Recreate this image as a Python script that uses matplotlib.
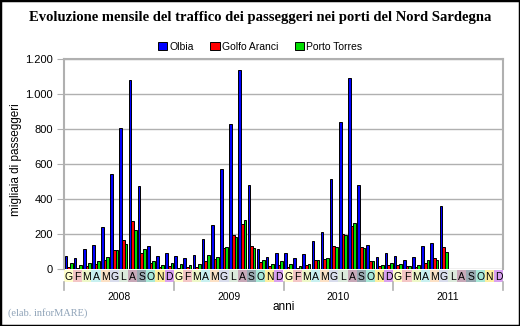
import numpy as np
import matplotlib
matplotlib.use('Agg')
import matplotlib.pyplot as plt
from matplotlib.patches import Rectangle

# monthly passengers (thousands), Jan 2008 - Jun 2011
years = ['2008', '2009', '2010', '2011']
months = ['G', 'F', 'M', 'A', 'M', 'G', 'L', 'A', 'S', 'O', 'N', 'D']
month_colors = ['#FFFFCC', '#F4C6C6', '#EEF8C8', '#C8F0F0', '#FCE0C4', '#D8DCEC',
                '#DCEADC', '#C8A8B8', '#98A8B0', '#A8E8D8', '#FFF0A0', '#D8A0F0']

olbia = [76, 61, 112, 135, 238, 541, 804, 1078, 472, 130, 72, 90,
         72, 61, 78, 170, 250, 570, 827, 1135, 478, 112, 67, 90,
         90, 61, 84, 158, 210, 512, 840, 1090, 478, 135, 67, 90,
         72, 50, 67, 130, 147, 360]
golfo_aranci = [13, 5, 17, 27, 51, 107, 164, 272, 90, 32, 10, 15,
                6, 10, 10, 44, 55, 118, 193, 255, 130, 38, 15, 21,
                10, 5, 21, 50, 55, 130, 198, 244, 124, 44, 15, 21,
                21, 15, 10, 32, 61, 124]
porto_torres = [32, 21, 32, 44, 67, 107, 141, 221, 112, 44, 21, 32,
                27, 21, 27, 78, 67, 124, 181, 278, 118, 50, 27, 44,
                27, 15, 27, 50, 61, 124, 193, 261, 118, 44, 21, 32,
                27, 15, 21, 50, 50, 95]

n_slots = 12 * len(years)
plt.rcParams['font.family'] = ['Liberation Sans', 'DejaVu Sans']

fig = plt.figure(figsize=(5.2, 3.26), dpi=100)
fig.patches.append(Rectangle((0, 0), 1, 1, transform=fig.transFigure, fill=False,
                             edgecolor='black', linewidth=2.5, zorder=10))

ax = fig.add_axes([64 / 520, 57 / 326, 439 / 520, 210 / 326])
w = 0.29
x = np.arange(len(olbia)) + 0.5
ax.bar(x - w, olbia, w, color='#0000FF', edgecolor='black', linewidth=0.7, label='Olbia', zorder=3)
ax.bar(x, golfo_aranci, w, color='#FF0000', edgecolor='black', linewidth=0.7, label='Golfo Aranci', zorder=3)
ax.bar(x + w, porto_torres, w, color='#00DD00', edgecolor='black', linewidth=0.7, label='Porto Torres', zorder=3)

ax.set_xlim(0, n_slots)
ax.set_ylim(0, 1200)
ax.set_yticks(range(0, 1201, 200))
ax.set_yticklabels(['0', '200', '400', '600', '800', '1.000', '1.200'], fontsize=8)
ax.set_xticks([])
ax.grid(axis='y', color='#B0B0B0', linewidth=1, zorder=0)
for s in ['left', 'top', 'right']:
    ax.spines[s].set_color('#B0B0B0')
    ax.spines[s].set_linewidth(1.5)
ax.spines['bottom'].set_visible(False)
ax.tick_params(axis='y', color='#B0B0B0', length=5, pad=3)
ax.set_ylabel('migliaia di passeggeri', fontsize=8.5)
ax.yaxis.set_label_coords(-0.096, 0.52)

# month band under the axis
band = fig.add_axes([64 / 520, 44 / 326, 439 / 520, 12 / 326])
band.set_xlim(0, n_slots)
band.set_ylim(0, 1)
band.axis('off')
for i in range(n_slots):
    band.add_patch(Rectangle((i, 0), 1, 1, facecolor=month_colors[i % 12], edgecolor='none'))
    band.text(i + 0.5, 0.45, months[i % 12], ha='center', va='center', fontsize=7.5)
for k in range(len(years) + 1):
    band.plot([12 * k, 12 * k], [0, -0.7], color='#B0B0B0', linewidth=1.2, clip_on=False)
for k, yr in enumerate(years):
    band.text(12 * k + 6, -1.25, yr, ha='center', va='center', fontsize=7.5)
band.text(n_slots / 2, -2.05, 'anni', ha='center', va='center', fontsize=8.5)

fig.text(0.5, 0.945, 'Evoluzione mensile del traffico dei passeggeri nei porti del Nord Sardegna',
         ha='center', va='center', fontsize=10.5, fontweight='bold', family='Liberation Serif')
fig.legend(loc='center', bbox_to_anchor=(0.5, 0.857), ncol=3, frameon=False, fontsize=7.5,
           handlelength=0.9, handleheight=0.9, handletextpad=0.2, columnspacing=1.6)
fig.text(0.015, 0.04, '(elab. inforMARE)', fontsize=7.5, color='#8FA3B8',
         family='Liberation Serif', ha='left', va='center')

fig.savefig('out.png', dpi=100)
